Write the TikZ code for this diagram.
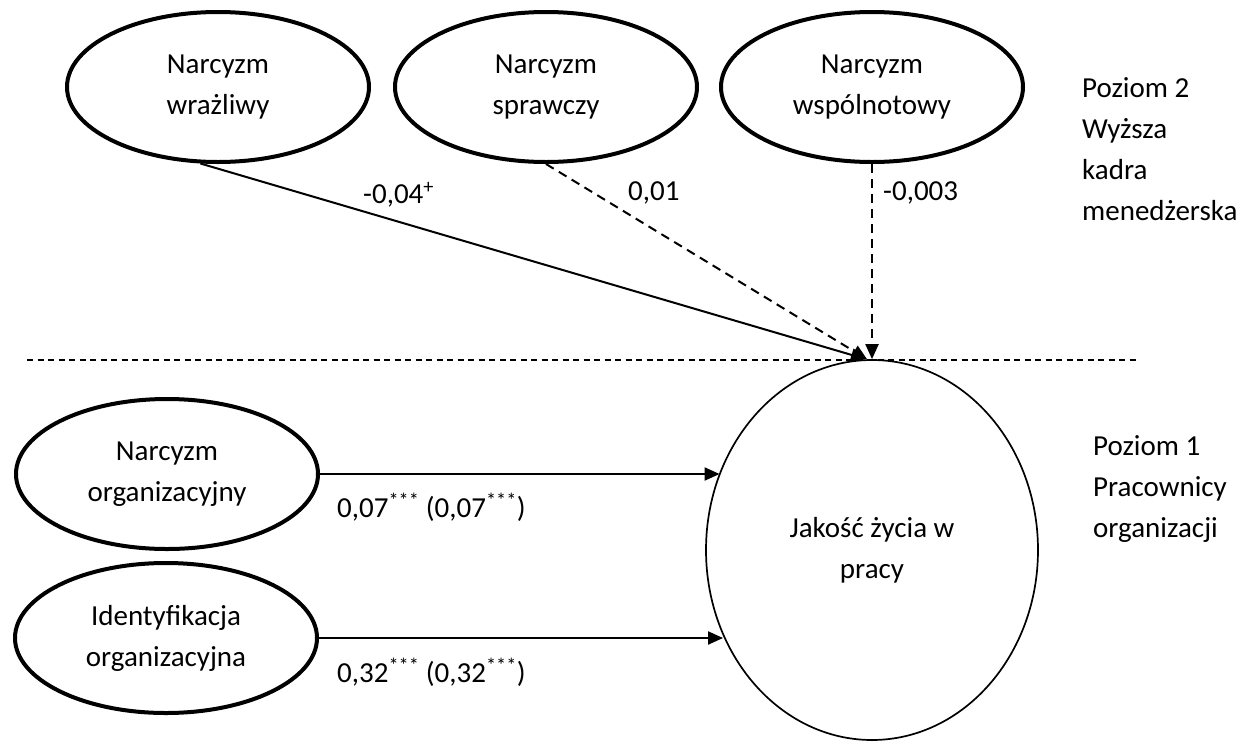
\documentclass[tikz,border=0pt]{standalone}
\usepackage{fontspec}
\setmainfont{Carlito}
\usetikzlibrary{arrows.meta,shapes.geometric}

\begin{document}
\begin{tikzpicture}[x=1pt,y=-1pt,
  txt/.style={font=\fontsize{29}{41}\selectfont, inner sep=0pt, align=center},
  latent/.style={ellipse, draw, line width=4pt, minimum width=302pt,
    minimum height=150pt, txt},
  outcome/.style={ellipse, draw, line width=1.7pt, minimum width=332pt,
    minimum height=380pt, txt},
  path/.style={line width=2pt, -{Triangle[length=15pt,width=13pt]}},
  nspath/.style={path, dash pattern=on 9pt off 6pt},
  coef/.style={txt, anchor=base west},
  level/.style={txt, align=left, anchor=north west},
  separator/.style={line width=1.5pt, dash pattern=on 6pt off 4.5pt}
]
\useasboundingbox (0,0) rectangle (1255,742);

% level 2 predictors
\node[latent] (vuln) at (218,87) {Narcyzm\\wrażliwy};
\node[latent] (agen) at (546,87) {Narcyzm\\sprawczy};
\node[latent] (comm) at (872,87) {Narcyzm\\wspólnotowy};

% level 1 predictors
\node[latent] (org)  at (167,474) {Narcyzm\\organizacyjny};
\node[latent] (iden) at (166,638) {Identyfikacja\\organizacyjna};

% outcome
\node[outcome] (qwl) at (872,550) {Jakość życia w\\pracy};

% level labels
\node[level] (lvl2) at (1082,77) {Poziom 2\\Wyższa\\kadra\\menedżerska};
\node[level] (lvl1) at (1093,435) {Poziom 1\\Pracownicy\\organizacji};

% boundary between levels
\coordinate (sepL) at (27,360);
\coordinate (sepR) at (1140,360);
\draw[separator] (sepL) -- (sepR);

% cross-level paths
\draw[path]   (vuln.257) -- ([xshift=-6pt]qwl.north);
\draw[nspath] (agen.south) -- ([xshift=-5pt]qwl.north);
\draw[nspath] (comm.south) -- (qwl.north);

% level 1 paths
\draw[path] (org.east)  -- (org.east -| qwl.153.4);
\draw[path] (iden.east) -- (iden.east -| qwl.210.9);

% coefficients
\node[coef] (c1) at (363,203) {-0,04\textsuperscript{+}};
\node[coef] (c2) at (628,200) {0,01};
\node[coef] (c3) at (883,200) {-0,003};
\node[coef] (c4) at (337,517) {0,07\textsuperscript{***} (0,07\textsuperscript{***})};
\node[coef] (c5) at (337,682) {0,32\textsuperscript{***} (0,32\textsuperscript{***})};
\end{tikzpicture}
\end{document}
